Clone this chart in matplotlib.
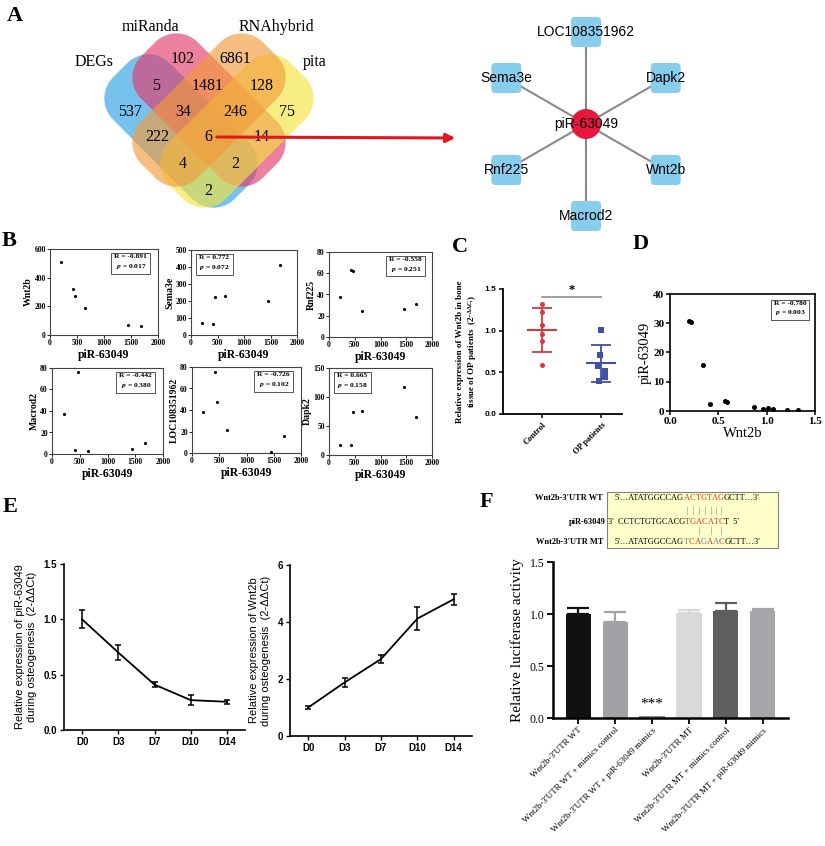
import numpy as np
import matplotlib
matplotlib.use("Agg")
import matplotlib.pyplot as plt
from matplotlib.patches import Polygon, Circle, FancyBboxPatch, Rectangle

plt.rcParams['font.family'] = ['Liberation Serif', 'DejaVu Serif']
plt.rcParams['mathtext.fontset'] = 'custom'
plt.rcParams['mathtext.rm'] = 'Liberation Serif:bold'
plt.rcParams['mathtext.it'] = 'Liberation Serif:italic:bold'
plt.rcParams['mathtext.bf'] = 'Liberation Serif:bold'

W, H = 825, 846
SANS = ['Liberation Sans', 'DejaVu Sans']

# ---- A: venn + network ----
venn_names = ["DEGs", "miRanda", "RNAhybrid", "pita"]
# region order: M, R, DM, MR, RP, D, DMR, MRP, P, DR, DMRP, MP, DRP, DMP, DP
venn_counts = [102, 6861, 5, 1481, 128, 537, 34, 246, 75, 222, 6, 14, 4, 2, 2]
hub = "piR-63049"
targets = ["LOC108351962", "Dapk2", "Wnt2b", "Macrod2", "Rnf225", "Sema3e"]

# ---- B: correlation scatter ----
pir_expr = [210, 420, 460, 640, 1450, 1680]
b_genes = ["Wnt2b", "Sema3e", "Rnf225", "Macrod2", "LOC108351962", "Dapk2"]
wnt2b_expr = [510, 320, 275, 190, 70, 65]
sema3e_expr = [70, 65, 225, 228, 198, 410]
rnf225_expr = [38, 63, 62, 24, 26, 31]
macrod2_expr = [37, 4, 76, 3, 5, 10]
loc_expr = [38, 75, 47, 21, 1, 16]
dapk2_expr = [18, 18, 74, 76, 118, 66]
b_R = ["-0.891", "0.772", "-0.558", "-0.442", "-0.726", "0.665"]
b_p = ["0.017", "0.072", "0.251", "0.380", "0.102", "0.158"]
b_ymax = [600, 500, 80, 80, 80, 150]
b_ystep = [200, 100, 20, 20, 20, 50]

# ---- C: patients ----
c_groups = ["Control", "OP patients"]
c_control = [1.32, 1.22, 1.07, 0.96, 0.87, 0.59]
c_op = [1.01, 0.71, 0.57, 0.52, 0.44, 0.39]
c_op_jitter = [0.0, -0.02, -0.06, 0.06, 0.06, -0.04]

# ---- D ----
d_wnt2b = [0.20, 0.22, 0.34, 0.41, 0.57, 0.59, 0.87, 0.96, 1.01, 1.07, 1.21, 1.32]
d_pir = [30.8, 30.3, 15.8, 2.4, 3.4, 3.1, 1.3, 0.6, 1.1, 0.6, 0.3, 0.2]

# ---- E ----
e_days = ["D0", "D3", "D7", "D10", "D14"]
e_pir = [1.0, 0.70, 0.41, 0.27, 0.255]
e_pir_err = [0.08, 0.07, 0.02, 0.045, 0.02]
e_wnt = [1.0, 1.88, 2.70, 4.12, 4.80]
e_wnt_err = [0.07, 0.17, 0.13, 0.40, 0.20]

# ---- F ----
f_labels = ["Wnt2b-3'UTR WT", "Wnt2b-3'UTR WT + mimics control",
            "Wnt2b-3'UTR WT + piR-63049 mimics", "Wnt2b-3'UTR MT",
            "Wnt2b-3'UTR MT + mimics control", "Wnt2b-3'UTR MT + piR-63049 mimics"]
f_vals = [1.0, 0.92, 0.02, 1.01, 1.03, 1.03]
f_err = [0.06, 0.10, 0.0, 0.03, 0.08, 0.015]
f_colors = ['#111111', '#a2a2a6', '#8e8e8e', '#d9d9d9', '#5f5f5f', '#a6a6aa']
seq_wt = ["5'…ATATGGCCAG", "ACTGTAG", "GCTT…3'"]
seq_pir = ["3'  CCTCTGTGCACG", "TGACATC", "T  5'"]
seq_mt = ["5'…ATATGGCCAG", "TCAGAAC", "GCTT…3'"]
mt_colors = ['#5b7fa8', '#d03a2a', '#d03a2a', '#5b7fa8', '#d03a2a', '#5b7fa8', '#d03a2a']

fig = plt.figure(figsize=(W / 100, H / 100), dpi=100)


def px_axes(x0, y0, x1, y1):
    return fig.add_axes([x0 / W, 1 - y1 / H, (x1 - x0) / W, (y1 - y0) / H])


def rounded_rect(cx, cy, a, b, r, ang):
    t = np.radians(ang)
    u = np.array([np.cos(t), np.sin(t)])
    v = np.array([-np.sin(t), np.cos(t)])
    pts = []
    for sx, sy, a0 in [(1, 1, 0), (-1, 1, 90), (-1, -1, 180), (1, -1, 270)]:
        for th in np.radians(np.linspace(a0, a0 + 90, 14)):
            pts.append((sx * (a - r) + r * np.cos(th), sy * (b - r) + r * np.sin(th)))
    pts = np.array(pts)
    return np.array([cx, cy]) + pts[:, :1] * u + pts[:, 1:] * v


bg = fig.add_axes([0, 0, 1, 1])
bg.set_xlim(0, W)
bg.set_ylim(H, 0)
bg.axis('off')

# panel letters
for lab, x, y in [("A", 7, 6), ("B", 2, 231), ("C", 452, 237), ("D", 633, 234),
                  ("E", 3, 497), ("F", 480, 492)]:
    bg.text(x, y, lab, fontsize=16, fontweight='bold', va='top', ha='left')

# venn (drawn blue, pink, yellow, orange so orange sits on top)
shapes = [(181, 131, 45, '#2aa0e4'), (209, 110, 45, '#e2386a'),
          (237, 131, -45, '#f4e33c'), (209, 110, -45, '#f39a3a')]
for cx, cy, ang, col in shapes:
    bg.add_patch(Polygon(rounded_rect(cx, cy, 86, 40, 30, ang), closed=True,
                         fc=col, ec='none', alpha=0.64, zorder=1))
venn_pos = [(183, 59), (235, 59), (156, 86), (208, 86), (262, 86), (130, 112),
            (183, 112), (235, 112), (287, 112), (157, 137), (208, 137), (262, 137),
            (183, 164), (235, 164), (208, 191)]
for (x, y), n in zip(venn_pos, venn_counts):
    bg.text(x, y, str(n), ha='center', va='center', fontsize=11.5, zorder=3)
for name, (x, y) in zip(venn_names, [(94, 62), (150, 27), (276, 27), (315, 62)]):
    bg.text(x, y, name, ha='center', va='center', fontsize=11.5)

bg.annotate('', xy=(458, 138), xytext=(214, 137),
            arrowprops=dict(arrowstyle='-|>', color='#e8141c', lw=2.2, mutation_scale=13),
            zorder=5)

# network
hx, hy, R = 586, 124, 92
angles = [90, 30, -30, -90, -150, 150]
for name, a in zip(targets, angles):
    nx = hx + R * np.cos(np.radians(a))
    ny = hy - R * np.sin(np.radians(a))
    bg.plot([hx, nx], [hy, ny], color='#8a8a8a', lw=1.5, zorder=1)
    bg.add_patch(FancyBboxPatch((nx - 15, ny - 15), 30, 30,
                                boxstyle='round,pad=0,rounding_size=4',
                                fc='#87cdee', ec='none', zorder=2))
    bg.text(nx, ny, name, ha='center', va='center', fontsize=10, family=SANS, zorder=4)
bg.add_patch(Circle((hx, hy), 15, fc='#e8173c', ec='none', zorder=3))
bg.text(hx, hy, hub, ha='center', va='center', fontsize=10, family=SANS, zorder=4)

# ---- B ----
b_values = [wnt2b_expr, sema3e_expr, rnf225_expr, macrod2_expr, loc_expr, dapk2_expr]
b_boxes = [(50, 249, 158, 335), (191, 250, 297, 335), (329, 252, 432, 337),
           (52, 368, 163, 454), (192, 367, 301, 453), (329, 368, 432, 455)]
b_box_right = [True, False, True, True, True, False]
for i in range(6):
    ax = px_axes(*b_boxes[i])
    ax.scatter(pir_expr, b_values[i], s=5, c='black', zorder=3, linewidths=0)
    ax.set_xlim(0, 2000)
    ax.set_ylim(0, b_ymax[i])
    ax.set_xticks([0, 500, 1000, 1500, 2000])
    ax.set_yticks(np.arange(0, b_ymax[i] + 1, b_ystep[i]))
    ax.tick_params(labelsize=5.5, length=2, width=0.6, pad=1)
    for lab in ax.get_xticklabels() + ax.get_yticklabels():
        lab.set_fontweight('bold')
    for s in ax.spines.values():
        s.set_linewidth(0.8)
        s.set_color('#444444')
    ax.set_xlabel('piR-63049', fontsize=8.5, fontweight='bold', labelpad=1)
    ax.set_ylabel(b_genes[i], fontsize=7, fontweight='bold', labelpad=1)
    txt = "R = %s\n$p$ = %s" % (b_R[i], b_p[i])
    if b_box_right[i]:
        ax.text(0.9, 0.94, txt, transform=ax.transAxes, ha='right', va='top',
                fontsize=5.4, fontweight='bold', linespacing=1.4,
                bbox=dict(boxstyle='square,pad=0.4', fc='white', ec='#555555', lw=0.7))
    else:
        ax.text(0.08, 0.94, txt, transform=ax.transAxes, ha='left', va='top',
                fontsize=5.4, fontweight='bold', linespacing=1.4,
                bbox=dict(boxstyle='square,pad=0.4', fc='white', ec='#555555', lw=0.7))

# ---- C ----
ax = px_axes(503, 289, 622, 414)
red, blue = '#d9383a', '#3f51a8'
ax.scatter(np.zeros(len(c_control)), c_control, s=13, color=red, zorder=3, linewidths=0)
ax.scatter(1 + np.array(c_op_jitter), c_op, s=13, marker='s', color=blue, zorder=3, linewidths=0)
for x, vals, col in [(0, c_control, red), (1, c_op, blue)]:
    m, sd = np.mean(vals), np.std(vals, ddof=1)
    ax.hlines(m, x - 0.25, x + 0.25, color=col, lw=1.5)
    ax.vlines(x, m - sd, m + sd, color=col, lw=1.3)
    ax.hlines([m - sd, m + sd], x - 0.17, x + 0.17, color=col, lw=1.3)
ax.plot([0, 1], [1.40, 1.40], color='#8c8c8c', lw=1.2)
ax.text(0.5, 1.41, '*', ha='center', va='bottom', fontsize=9, fontweight='bold')
ax.set_xlim(-0.66, 1.35)
ax.set_ylim(0, 1.5)
ax.set_yticks([0, 0.5, 1.0, 1.5])
ax.set_yticklabels(['0.0', '0.5', '1.0', '1.5'], family=SANS, fontweight='bold', fontsize=6)
ax.set_xticks([0, 1])
ax.set_xticklabels(c_groups, rotation=45, ha='right', rotation_mode='anchor',
                   fontsize=6, fontweight='bold')
ax.spines[['top', 'right']].set_visible(False)
ax.spines[['left', 'bottom']].set_linewidth(1.3)
ax.tick_params(length=3, width=1.1, pad=2)
ax.set_ylabel('Relative expression of Wnt2b in bone\ntissue of OP patients  (2$^{-\\Delta\\Delta C_t}$)',
              fontsize=6.5, fontweight='bold', labelpad=4)

# ---- D ----
ax = px_axes(670, 294, 815, 411)
ax.scatter(d_wnt2b, d_pir, s=13, c='black', zorder=3, linewidths=0)
ax.set_xlim(0, 1.5)
ax.set_ylim(0, 40)
ax.set_xticks([0, 0.5, 1.0, 1.5])
ax.set_xticklabels(['0.0', '0.5', '1.0', '1.5'])
ax.set_yticks([0, 10, 20, 30, 40])
ax.tick_params(labelsize=8, length=3, width=1.1, pad=1)
for lab in ax.get_xticklabels() + ax.get_yticklabels():
    lab.set_fontweight('bold')
for s in ax.spines.values():
    s.set_linewidth(1.2)
ax.set_xlabel('Wnt2b', fontsize=10.5, labelpad=1)
ax.set_ylabel('piR-63049', fontsize=10.5, labelpad=1)
ax.text(0.94, 0.94, "R = -0.780\n$p$ = 0.003", transform=ax.transAxes, ha='right', va='top',
        fontsize=5.4, fontweight='bold', linespacing=1.4,
        bbox=dict(boxstyle='square,pad=0.4', fc='white', ec='#555555', lw=0.7))

# ---- E ----
e_sets = [((64, 564, 245, 730), e_pir, e_pir_err, 1.5, [0, 0.5, 1.0, 1.5], ['0.0', '0.5', '1.0', '1.5'],
           'Relative expression of piR-63049\nduring osteogenesis  (2-ΔΔCt)'),
          ((290, 565, 472, 736), e_wnt, e_wnt_err, 6, [0, 2, 4, 6], ['0', '2', '4', '6'],
           'Relative expression of Wnt2b\nduring osteogenesis  (2-ΔΔCt)')]
for box, vals, errs, ymax, yt, ytl, ylab in e_sets:
    ax = px_axes(*box)
    ax.errorbar(range(len(e_days)), vals, yerr=errs, color='black', lw=1.3,
                capsize=2.5, capthick=1.1, elinewidth=1.1)
    ax.set_xlim(-0.5, 4.5)
    ax.set_ylim(0, ymax)
    ax.set_xticks(range(len(e_days)))
    ax.set_xticklabels(e_days, family=SANS, fontweight='bold', fontsize=7)
    ax.set_yticks(yt)
    ax.set_yticklabels(ytl, family=SANS, fontweight='bold', fontsize=7)
    ax.spines[['top', 'right']].set_visible(False)
    ax.spines[['left', 'bottom']].set_linewidth(1.2)
    ax.tick_params(length=3, width=1.0, pad=2)
    ax.set_ylabel(ylab, family=SANS, fontsize=8, labelpad=5)

# ---- F ----
ax = px_axes(553, 562, 788, 718)
xs = np.arange(len(f_vals))
ax.bar(xs, f_vals, width=0.68, color=f_colors, zorder=2)
for x, v, e, c in zip(xs, f_vals, f_err, f_colors):
    if e > 0:
        ax.errorbar(x, v, yerr=[[0], [e]], fmt='none', ecolor=c, capsize=8,
                    elinewidth=1.6, capthick=1.6, zorder=1)
ax.text(2, 0.07, '***', ha='center', va='bottom', fontsize=11)
ax.set_xlim(-0.68, 5.68)
ax.set_ylim(0, 1.5)
ax.set_yticks([0, 0.5, 1.0, 1.5])
ax.set_yticklabels(['0.0', '0.5', '1.0', '1.5'], fontsize=8.5)
ax.set_xticks(xs)
ax.set_xticklabels(f_labels, rotation=45, ha='right', rotation_mode='anchor', fontsize=6.5)
ax.spines[['top', 'right']].set_visible(False)
ax.spines[['left', 'bottom']].set_linewidth(1.8)
ax.tick_params(length=4, width=1.3, pad=2)
ax.set_ylabel('Relative luciferase activity', fontsize=11, labelpad=4)

# sequence box
bg.add_patch(Rectangle((607, 492), 171, 56, fc='#ffffcc', ec='#808080', lw=0.8, zorder=1))
for lab, y in [("Wnt2b-3'UTR WT", 498), ("piR-63049", 522), ("Wnt2b-3'UTR MT", 542)]:
    bg.text(603 if 'UTR' in lab else 606, y, lab, ha='right', va='center', fontsize=6,
            fontweight='bold')


def chain(x, y, parts):
    out = []
    t = bg.text(x, y, parts[0][0], color=parts[0][1], va='center', ha='left', fontsize=6, zorder=3)
    out.append(t)
    for s, c in parts[1:]:
        t = bg.annotate(s, xy=(1, 0), xycoords=t, va='bottom', ha='left', color=c,
                        fontsize=6, zorder=3)
        out.append(t)
    return out


red_seq = '#d03a2a'
chain(615, 498, [(seq_wt[0], 'black')] + [(ch, red_seq) for ch in seq_wt[1]] + [(seq_wt[2], 'black')])
pir_parts = chain(608, 522, [(seq_pir[0], 'black')] + [(ch, red_seq) for ch in seq_pir[1]]
                  + [(seq_pir[2], 'black')])
chain(615, 542, [(seq_mt[0], 'black')] + list(zip(seq_mt[1], mt_colors)) + [(seq_mt[2], 'black')])
for k, letter in enumerate(pir_parts[1:8]):
    bg.annotate('|', xy=(0.5, 1), xycoords=letter, xytext=(0, 2.0), textcoords='offset points',
                ha='center', va='bottom', fontsize=6, color='#3f5f7a', zorder=3)
    if k in (2, 4, 6):
        bg.annotate('|', xy=(0.5, 0), xycoords=letter, xytext=(0, -0.8), textcoords='offset points',
                    ha='center', va='top', fontsize=6, color='#3f5f7a', zorder=3)

fig.savefig('out.png', dpi=100)
